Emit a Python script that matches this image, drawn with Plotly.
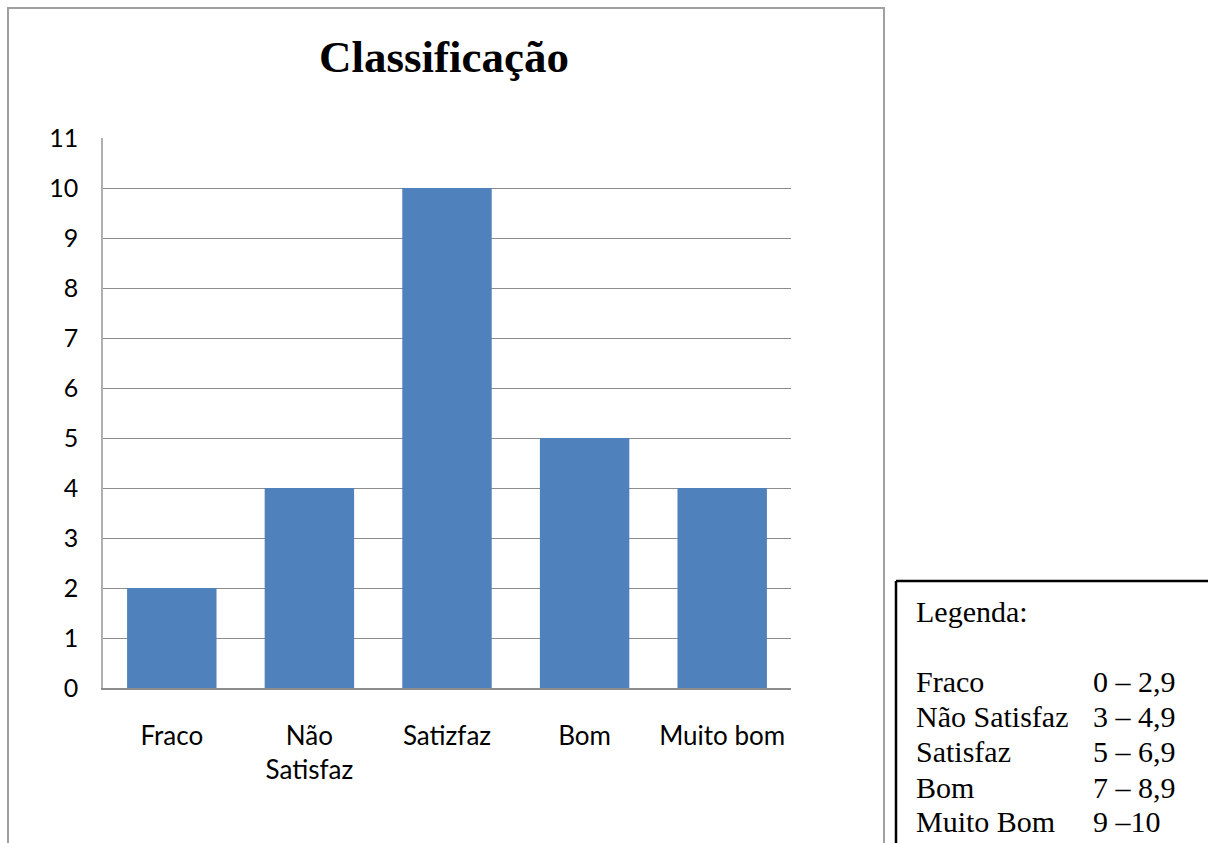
import plotly.graph_objects as go

categories = ["Fraco", "Não<br>Satisfaz", "Satizfaz", "Bom", "Muito bom"]
values = [2, 4, 10, 5, 4]
y_ticks = list(range(0, 12))

legend_title = "Legenda:"
legend_names = ["Fraco", "Não Satisfaz", "Satisfaz", "Bom", "Muito Bom"]
legend_ranges = ["0 – 2,9", "3 – 4,9", "5 – 6,9", "7 – 8,9", "9 –10"]

W, H = 1208, 843
def px(x): return x / W
def py(y): return 1 - y / H

fig = go.Figure()
fig.add_trace(go.Bar(
    x=categories, y=values,
    marker=dict(color="#4F81BD", line=dict(width=0)),
    width=0.65,
))

fig.update_layout(
    width=W, height=H,
    margin=dict(l=0, r=0, t=0, b=0, autoexpand=False),
    paper_bgcolor="white", plot_bgcolor="white",
    showlegend=False,
    font=dict(family="Lato", color="black"),
    xaxis=dict(
        domain=[px(103), px(791)], automargin=False,
        showgrid=False, showline=True, linecolor="#8c8c8c", linewidth=1.5,
        ticks="", tickfont=dict(size=26, family="Lato"),
        ticklabelstandoff=24,
    ),
    yaxis=dict(
        domain=[py(688), py(138)], automargin=False,
        range=[0, 11], tickvals=y_ticks,
        showgrid=True, gridcolor="#8c8c8c", gridwidth=1,
        showline=True, linecolor="#b0b0b0", linewidth=1.5,
        zeroline=False, ticks="", tickfont=dict(size=25, family="Lato"),
        ticklabelstandoff=18,
    ),
)

# outer chart border
fig.add_shape(type="rect", xref="paper", yref="paper",
              x0=px(8), x1=px(884), y0=py(900), y1=py(8),
              line=dict(color="#a0a0a0", width=2), layer="below")

# title
fig.add_annotation(text="<b>Classificação</b>", xref="paper", yref="paper",
                   x=px(444), y=py(57), xanchor="center", yanchor="middle",
                   showarrow=False,
                   font=dict(family="Liberation Serif", size=45, color="black"))

# legend box (top and left edges visible; the rest runs off the page)
fig.add_shape(type="line", xref="paper", yref="paper",
              x0=px(896), x1=px(1300), y0=py(581), y1=py(581),
              line=dict(color="black", width=2.5))
fig.add_shape(type="line", xref="paper", yref="paper",
              x0=px(896), x1=px(896), y0=py(581), y1=py(920),
              line=dict(color="black", width=2.5))

LFONT = dict(family="Liberation Serif", size=30, color="black")
fig.add_annotation(text=legend_title, xref="paper", yref="paper",
                   x=px(914), y=py(611), xanchor="left", yanchor="middle",
                   showarrow=False, font=LFONT)
row_y = [681, 716, 751, 787, 821]
for name, rng, yy in zip(legend_names, legend_ranges, row_y):
    fig.add_annotation(text=name, xref="paper", yref="paper",
                       x=px(914), y=py(yy), xanchor="left", yanchor="middle",
                       showarrow=False, font=LFONT)
    fig.add_annotation(text=rng, xref="paper", yref="paper",
                       x=px(1091), y=py(yy), xanchor="left", yanchor="middle",
                       showarrow=False, font=LFONT)

fig.write_html(
    "out.html",
    config={"displayModeBar": False},
    post_script="document.body.style.margin='0';document.body.style.overflow='hidden';",
)
